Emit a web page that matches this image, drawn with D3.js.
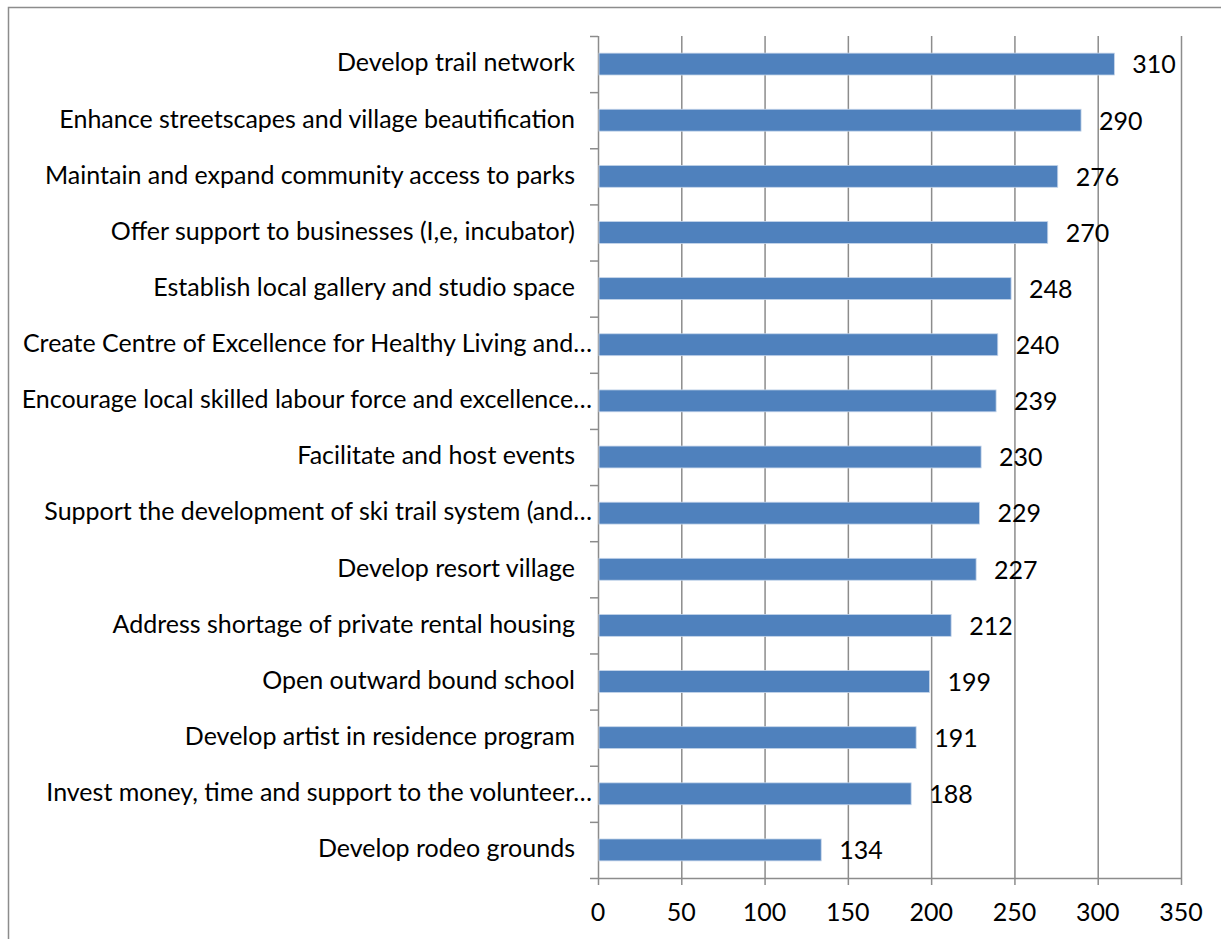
<!DOCTYPE html>
<html>
<head>
<meta charset="utf-8">
<script src="https://cdn.jsdelivr.net/npm/d3@7"></script>
<style>
  body { margin: 0; background: #fff; }
  svg text { font-family: Lato, "Open Sans", sans-serif; fill: #000; }
</style>
</head>
<body>
<svg id="chart" width="1221" height="939"></svg>
<script>
// categories, top to bottom
const categories = [
	'Develop trail network',
	'Enhance streetscapes and village beautification',
	'Maintain and expand community access to parks',
	'Offer support to businesses (I,e, incubator)',
	'Establish local gallery and studio space',
	'Create Centre of Excellence for Healthy Living and…',
	'Encourage local skilled labour force and excellence…',
	'Facilitate and host events',
	'Support the development of ski trail system (and…',
	'Develop resort village',
	'Address shortage of private rental housing',
	'Open outward bound school',
	'Develop artist in residence program',
	'Invest money, time and support to the volunteer…',
	'Develop rodeo grounds'
]
const counts = [310, 290, 276, 270, 248, 240, 239, 230, 229, 227, 212, 199, 191, 188, 134]
const xTicks = [0, 50, 100, 150, 200, 250, 300, 350]

const svg = d3.select('#chart')

// outer frame
svg.append('rect')
	.attr('x', 8.5).attr('y', 7.5)
	.attr('width', 1220).attr('height', 940)
	.attr('fill', 'none').attr('stroke', '#8c8c8c').attr('stroke-width', 1.5)

const plotLeft = 598, plotRight = 1181, plotTop = 36, plotBottom = 878
const fontSize = 25

const x = d3.scaleLinear().domain([0, 350]).range([plotLeft, plotRight])
const y = d3.scaleBand().domain(categories).range([plotTop, plotBottom]).paddingInner(0.61).paddingOuter(0.305)

// gridlines
svg.append('g')
	.selectAll('line')
	.data(xTicks)
	.join('line')
	.attr('x1', d => x(d) + 0.5).attr('x2', d => x(d) + 0.5)
	.attr('y1', plotTop).attr('y2', plotBottom + 7)
	.attr('stroke', '#8c8c8c').attr('stroke-width', 1.5)

// bottom axis line
svg.append('line')
	.attr('x1', plotLeft - 8).attr('x2', plotRight + 0.5)
	.attr('y1', plotBottom + 0.5).attr('y2', plotBottom + 0.5)
	.attr('stroke', '#8c8c8c').attr('stroke-width', 1.5)

// category ticks on the left
const step = (plotBottom - plotTop) / categories.length
svg.append('g')
	.selectAll('line')
	.data(d3.range(categories.length))
	.join('line')
	.attr('x1', plotLeft - 8).attr('x2', plotLeft)
	.attr('y1', i => plotTop + i * step + 0.5).attr('y2', i => plotTop + i * step + 0.5)
	.attr('stroke', '#8c8c8c').attr('stroke-width', 1.5)

// bars
svg.append('g')
	.selectAll('rect')
	.data(counts)
	.join('rect')
	.attr('x', x(0) + 1)
	.attr('y', (d, i) => y(categories[i]))
	.attr('width', d => x(d) - x(0) - 1)
	.attr('height', y.bandwidth())
	.attr('fill', '#4f81bd')
	.attr('stroke', '#c5d5ea').attr('stroke-width', 0.8)

// value labels
svg.append('g')
	.selectAll('text')
	.data(counts)
	.join('text')
	.attr('x', d => x(d) + 18)
	.attr('y', (d, i) => y(categories[i]) + y.bandwidth() / 2 + 3)
	.attr('dominant-baseline', 'middle')
	.attr('font-size', fontSize)
	.text(d => d)

// category labels (full labels carry a trailing space in the original, cut ones don't)
svg.append('g')
	.selectAll('text')
	.data(categories)
	.join('text')
	.attr('x', d => d.endsWith('…') ? plotLeft - 6 : plotLeft - 23)
	.attr('y', d => y(d) + y.bandwidth() / 2 + 1)
	.attr('dominant-baseline', 'middle')
	.attr('text-anchor', 'end')
	.attr('font-size', fontSize)
	.text(d => d)

// x tick labels
svg.append('g')
	.selectAll('text')
	.data(xTicks)
	.join('text')
	.attr('x', d => x(d))
	.attr('y', plotBottom + 37)
	.attr('dominant-baseline', 'middle')
	.attr('text-anchor', 'middle')
	.attr('font-size', fontSize)
	.text(d => d)
</script>
</body>
</html>
